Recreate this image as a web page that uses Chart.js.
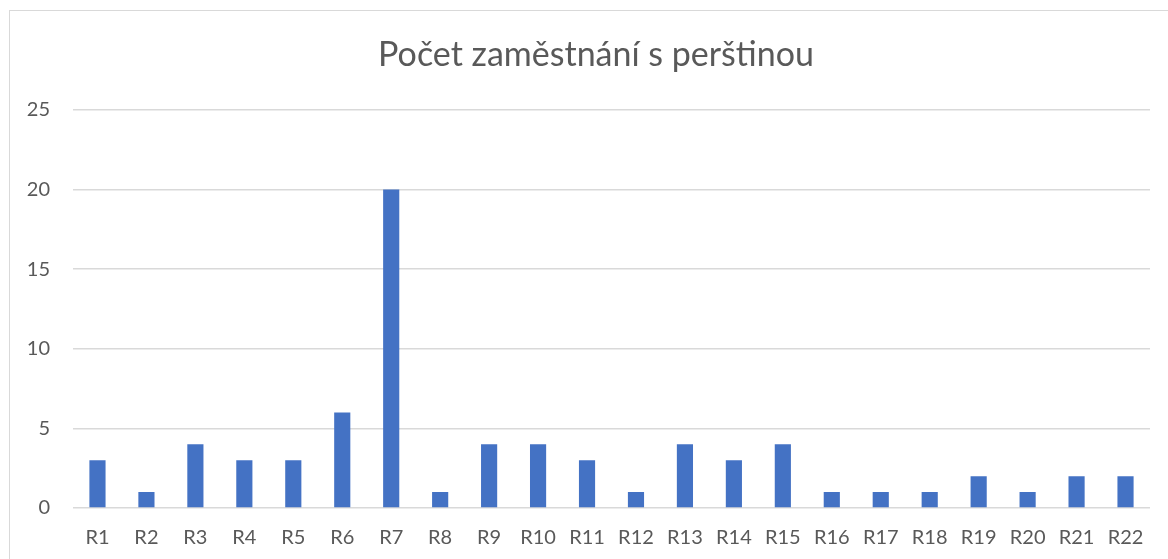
<!DOCTYPE html>
<html>
<head>
<meta charset="utf-8">
<script src="https://cdn.jsdelivr.net/npm/chart.js@4"></script>
<style>
  html, body { margin: 0; padding: 0; background: #fff; overflow: hidden; }
  #frame { position: absolute; left: 9px; top: 10px; width: 1170px; height: 560px; border: 1px solid #d9d9d9; }
  #wrap { position: absolute; left: 0; top: 0; width: 1168px; height: 559px; }
</style>
</head>
<body>
<div id="frame"></div>
<div id="wrap"><canvas id="chart"></canvas></div>
<script>
// categories and counts
const labels = ["R1", "R2", "R3", "R4", "R5", "R6", "R7", "R8", "R9", "R10", "R11",
  "R12", "R13", "R14", "R15", "R16", "R17", "R18", "R19", "R20", "R21", "R22"];
const counts = [3, 1, 4, 3, 3, 6, 20, 1, 4, 4, 3, 1, 4, 3, 4, 1, 1, 1, 2, 1, 2, 2];
const yTicks = [0, 5, 10, 15, 20, 25];

const font = "Lato, 'Open Sans', sans-serif";

// shift the title box so the text is centred a bit right, like the reference
const titleShift = {
  id: "titleShift",
  afterLayout(chart) {
    if (chart.titleBlock) chart.titleBlock.left = 42;
  },
};

new Chart(document.getElementById("chart"), {
  type: "bar",
  data: {
    labels: labels,
    datasets: [{
      data: counts,
      backgroundColor: "#4472C4",
      barPercentage: 0.33,
      categoryPercentage: 1.0,
    }],
  },
  options: {
    responsive: true,
    maintainAspectRatio: false,
    animation: false,
    layout: { padding: { left: 0, right: 18, top: 35, bottom: 0 } },
    plugins: {
      legend: { display: false },
      tooltip: { enabled: false },
      title: {
        display: true,
        text: "Počet zaměstnání s perštinou",
        color: "#595959",
        font: { family: font, size: 34, weight: "normal" },
        padding: { top: 0, bottom: 34 },
      },
    },
    scales: {
      x: {
        grid: { display: false },
        border: { display: false },
        ticks: {
          color: "#595959",
          font: { family: font, size: 20 },
          padding: 10,
          maxRotation: 0,
          autoSkip: false,
        },
        afterFit: (scale) => { scale.height = 51; }, // plot bottom sits at y=508
      },
      y: {
        min: 0,
        max: 25,
        afterBuildTicks: (axis) => { axis.ticks = yTicks.map((v) => ({ value: v })); },
        grid: { color: "#d9d9d9", lineWidth: 1.5, drawTicks: false },
        border: { display: false },
        ticks: {
          color: "#595959",
          font: { family: font, size: 20 },
          padding: 23,
        },
        afterFit: (scale) => { scale.width = 73; }, // plot left at x=73
      },
    },
  },
  plugins: [titleShift],
});
</script>
</body>
</html>
